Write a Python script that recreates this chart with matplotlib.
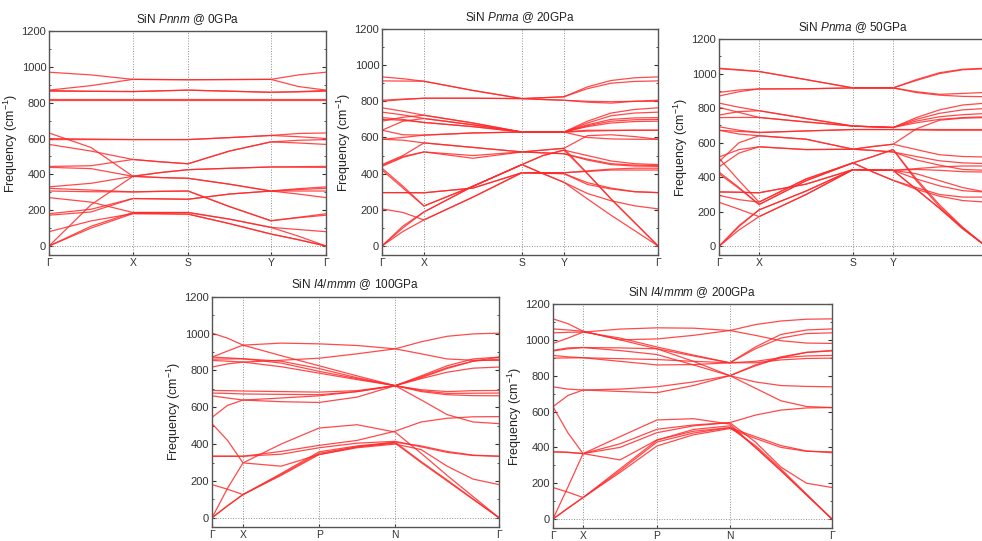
import numpy as np
import matplotlib
matplotlib.use('Agg')
import matplotlib.pyplot as plt
from matplotlib.ticker import MultipleLocator

plt.rcParams['font.family'] = ['Liberation Sans', 'DejaVu Sans']
plt.rcParams['mathtext.fontset'] = 'custom'
plt.rcParams['mathtext.rm'] = 'Liberation Sans'
plt.rcParams['mathtext.it'] = 'Liberation Sans:italic'

# --- SiN Pnnm @ 0GPa : values at G, mid, X, mid, S, mid, Y, mid, G
p0_labels = ['Γ', 'X', 'S', 'Y', 'Γ']
p0_ticks = [0.0, 0.303, 0.502, 0.801, 1.0]
p0_subdiv = [2, 2, 2, 2]
p0_bands = [
  [970, 955, 930, 929, 928, 929, 930, 955, 970],
  [870, 895, 930, 929, 928, 929, 930, 890, 870],
  [868, 864, 862, 866, 870, 864, 858, 862, 868],
  [864, 863, 862, 866, 870, 864, 858, 860, 864],
  [820, 820, 820, 820, 820, 820, 820, 820, 820],
  [815, 815, 815, 815, 815, 815, 815, 815, 815],
  [600, 597, 594, 594, 594, 605, 617, 628, 631],
  [594, 594, 594, 594, 594, 605, 617, 610, 600],
  [631, 550, 389, 410, 426, 434, 441, 443, 444],
  [567, 530, 483, 470, 459, 530, 581, 590, 594],
  [444, 448, 483, 470, 459, 530, 581, 575, 567],
  [439, 432, 389, 410, 426, 434, 441, 440, 439],
  [330, 350, 389, 382, 378, 345, 307, 320, 330],
  [0, 230, 389, 382, 378, 345, 307, 315, 322],
  [322, 312, 302, 305, 307, 220, 141, 160, 180],
  [307, 303, 302, 305, 307, 220, 141, 158, 172],
  [270, 245, 187, 187, 187, 150, 104, 92, 80],
  [180, 205, 265, 263, 261, 290, 307, 307, 307],
  [172, 190, 265, 263, 261, 290, 307, 290, 270],
  [80, 140, 181, 180, 178, 125, 67, 35, 0],
  [0, 110, 187, 187, 187, 150, 104, 55, 0],
  [0, 100, 181, 180, 178, 125, 67, 35, 0],
]

# --- SiN Pnma @ 20GPa : G, mid, X, mid, S, mid, Y, q1, q2, q3, G
p1_labels = ['Γ', 'X', 'S', 'Y', 'Γ']
p1_ticks = [0.0, 0.152, 0.507, 0.659, 1.0]
p1_subdiv = [2, 2, 2, 4]
p1_bands = [
  [935, 925, 911, 860, 815, 820, 825, 880, 915, 930, 935],
  [913, 912, 911, 860, 815, 820, 825, 870, 900, 910, 913],
  [806, 812, 817, 817, 815, 810, 806, 795, 790, 800, 806],
  [800, 810, 817, 817, 815, 810, 806, 800, 798, 800, 800],
  [764, 745, 723, 680, 630, 630, 630, 690, 735, 755, 764],
  [690, 712, 723, 680, 630, 630, 630, 680, 720, 735, 740],
  [740, 725, 705, 670, 630, 630, 630, 670, 700, 708, 710],
  [640, 690, 705, 670, 630, 630, 630, 665, 690, 698, 700],
  [710, 700, 683, 660, 630, 630, 630, 660, 680, 688, 690],
  [700, 695, 683, 660, 630, 630, 630, 640, 640, 640, 640],
  [640, 615, 613, 625, 630, 630, 630, 635, 638, 640, 640],
  [590, 600, 613, 625, 630, 630, 630, 600, 592, 590, 590],
  [590, 585, 570, 545, 520, 530, 540, 610, 615, 605, 590],
  [450, 500, 570, 545, 520, 530, 540, 400, 260, 130, 0],
  [440, 490, 520, 500, 520, 515, 510, 480, 455, 447, 445],
  [445, 495, 520, 485, 520, 515, 510, 475, 450, 442, 440],
  [430, 330, 221, 330, 450, 500, 530, 500, 470, 455, 450],
  [420, 320, 221, 330, 450, 400, 352, 290, 250, 222, 205],
  [295, 295, 294, 320, 405, 405, 405, 415, 425, 430, 430],
  [295, 295, 294, 320, 405, 405, 405, 412, 420, 420, 420],
  [0, 110, 188, 330, 450, 500, 530, 400, 260, 130, 0],
  [0, 100, 188, 330, 450, 400, 352, 260, 170, 85, 0],
  [205, 185, 144, 270, 405, 402, 400, 350, 320, 300, 295],
  [0, 80, 144, 270, 405, 402, 400, 340, 315, 300, 295],
]

# --- SiN Pnma @ 50GPa (right end cut off by the picture edge)
p2_labels = ['Γ', 'X', 'S', 'Y', '']
p2_ticks = [0.0, 0.150, 0.502, 0.652, 1.0]
p2_subdiv = [2, 2, 2, 4]
p2_bands = [
  [1031, 1022, 1012, 965, 917, 917, 917, 965, 1005, 1025, 1031],
  [1028, 1020, 1012, 965, 917, 917, 917, 960, 1000, 1022, 1028],
  [891, 905, 911, 912, 917, 917, 917, 895, 880, 885, 891],
  [870, 895, 911, 912, 917, 917, 917, 890, 875, 868, 866],
  [829, 805, 785, 740, 696, 692, 688, 745, 790, 818, 829],
  [760, 780, 785, 740, 696, 692, 688, 735, 770, 790, 798],
  [804, 775, 746, 720, 696, 692, 688, 725, 750, 762, 769],
  [745, 746, 746, 720, 696, 692, 688, 715, 735, 745, 750],
  [692, 672, 659, 668, 676, 676, 676, 676, 676, 676, 676],
  [672, 665, 659, 668, 676, 676, 676, 674, 672, 672, 672],
  [672, 650, 640, 620, 562, 578, 591, 680, 730, 742, 745],
  [490, 600, 640, 620, 562, 578, 591, 560, 530, 520, 517],
  [517, 560, 576, 560, 562, 555, 546, 520, 495, 483, 479],
  [460, 540, 576, 560, 562, 555, 546, 500, 470, 445, 440],
  [315, 313, 310, 360, 444, 442, 440, 450, 460, 465, 465],
  [315, 313, 310, 360, 444, 442, 440, 445, 440, 432, 430],
  [510, 380, 256, 390, 483, 430, 382, 340, 300, 285, 285],
  [295, 270, 256, 390, 483, 520, 560, 390, 240, 110, 0],
  [430, 340, 242, 380, 483, 520, 560, 380, 230, 105, 0],
  [420, 335, 242, 380, 483, 430, 382, 330, 290, 265, 256],
  [0, 120, 211, 320, 444, 442, 440, 390, 350, 322, 314],
  [0, 115, 211, 320, 444, 442, 440, 330, 220, 105, 0],
  [255, 215, 172, 300, 444, 442, 440, 420, 380, 340, 314],
  [0, 95, 172, 300, 444, 442, 440, 330, 220, 100, 0],
]

# --- SiN I4/mmm @ 100GPa : G, mid, X, mid, P, mid, N, q1, q2, q3, G
p3_labels = ['Γ', 'X', 'P', 'N', 'Γ']
p3_ticks = [0.0, 0.108, 0.373, 0.638, 1.0]
p3_subdiv = [2, 2, 2, 4]
p3_bands = [
  [1002, 975, 937, 880, 825, 770, 717, 760, 810, 850, 872],
  [872, 905, 937, 948, 944, 935, 917, 955, 985, 998, 1002],
  [818, 835, 845, 855, 866, 890, 917, 890, 862, 855, 854],
  [872, 868, 863, 850, 810, 760, 717, 770, 825, 862, 872],
  [861, 862, 863, 840, 795, 755, 717, 765, 815, 850, 861],
  [854, 850, 845, 820, 785, 750, 717, 755, 790, 812, 818],
  [691, 690, 688, 685, 682, 690, 717, 695, 685, 690, 691],
  [677, 675, 672, 670, 668, 685, 717, 690, 675, 676, 677],
  [662, 650, 639, 630, 626, 655, 717, 685, 668, 663, 662],
  [545, 610, 639, 650, 662, 685, 717, 640, 560, 520, 511],
  [511, 420, 298, 400, 487, 505, 465, 350, 230, 115, 0],
  [0, 160, 298, 280, 343, 380, 400, 370, 280, 210, 180],
  [334, 334, 334, 360, 393, 420, 470, 520, 540, 548, 549],
  [334, 334, 334, 345, 380, 405, 415, 385, 355, 338, 334],
  [180, 155, 126, 230, 343, 385, 410, 390, 360, 340, 334],
  [0, 65, 126, 235, 350, 385, 405, 300, 200, 100, 0],
  [0, 65, 126, 240, 358, 390, 410, 305, 205, 102, 0],
]

# --- SiN I4/mmm @ 200GPa
p4_labels = ['Γ', 'X', 'P', 'N', 'Γ']
p4_ticks = [0.0, 0.108, 0.373, 0.634, 1.0]
p4_subdiv = [2, 2, 2, 4]
p4_bands = [
  [1117, 1090, 1048, 1000, 950, 880, 800, 860, 905, 930, 941],
  [980, 1010, 1043, 1060, 1067, 1065, 1052, 1085, 1105, 1115, 1117],
  [1061, 1055, 1048, 1000, 1005, 1025, 1052, 1025, 995, 982, 980],
  [1039, 1042, 1043, 1010, 960, 915, 872, 950, 1010, 1035, 1039],
  [941, 955, 957, 955, 950, 910, 872, 960, 1030, 1055, 1061],
  [913, 905, 900, 895, 890, 880, 872, 880, 900, 910, 913],
  [898, 899, 900, 880, 860, 862, 872, 872, 888, 896, 898],
  [938, 950, 957, 940, 918, 860, 800, 855, 900, 930, 938],
  [738, 725, 720, 725, 738, 765, 800, 765, 745, 740, 738],
  [627, 690, 720, 712, 705, 745, 800, 730, 660, 628, 622],
  [627, 480, 365, 460, 553, 560, 530, 400, 270, 135, 0],
  [375, 372, 365, 330, 442, 490, 510, 410, 280, 140, 0],
  [375, 373, 365, 400, 482, 520, 538, 580, 608, 620, 622],
  [176, 150, 120, 260, 408, 470, 505, 450, 400, 378, 375],
  [0, 60, 120, 270, 430, 480, 510, 460, 410, 380, 370],
  [0, 62, 120, 280, 440, 500, 520, 400, 270, 135, 0],
  [0, 180, 365, 420, 501, 525, 538, 430, 290, 200, 176],
]


def knot_positions(ticks, subdiv):
  xs = [ticks[0]]
  for i, n in enumerate(subdiv):
    xs += list(np.linspace(ticks[i], ticks[i + 1], n + 1)[1:])
  return xs


def draw_panel(fig, rect, title, ticks, labels, subdiv, bands):
  ax = fig.add_axes(rect)
  xs = knot_positions(ticks, subdiv)
  for band in bands:
    ax.plot(xs, band, color='#ff2a2a', lw=0.9, alpha=0.85)
  for t in ticks[1:-1]:
    ax.axvline(t, color='#8c8c8c', ls=':', lw=0.7)
  ax.axhline(0, color='#8c8c8c', ls=':', lw=0.7)

  ax.set_xlim(0, 1)
  ax.set_ylim(-50, 1200)
  ax.set_xticks(ticks)
  ax.set_xticklabels(labels)
  ax.yaxis.set_major_locator(MultipleLocator(200))
  ax.yaxis.set_minor_locator(MultipleLocator(100))
  ax.tick_params(axis='y', which='both', direction='in', right=True,
                 labelsize=8, colors='#333333', length=3, pad=2)
  ax.tick_params(axis='y', which='minor', length=1.5)
  ax.tick_params(axis='x', direction='in', length=2, labelsize=7.5,
                 colors='#333333', pad=2)
  for sp in ax.spines.values():
    sp.set_color('#555555')
    sp.set_linewidth(1.0)
  ax.set_ylabel('Frequency (cm$^{-1}$)', fontsize=9, color='#222222', labelpad=1)
  ax.set_title(title, fontsize=8.5, color='#222222', pad=6)
  return ax


fig = plt.figure(figsize=(9.82, 5.41), dpi=100)

draw_panel(fig, [0.0499, 0.5287, 0.2821, 0.414],
           'SiN $\\mathit{Pnnm}$ @ 0GPa', p0_ticks, p0_labels, p0_subdiv, p0_bands)
draw_panel(fig, [0.3890, 0.5287, 0.2811, 0.4177],
           'SiN $\\mathit{Pnma}$ @ 20GPa', p1_ticks, p1_labels, p1_subdiv, p1_bands)
draw_panel(fig, [0.7322, 0.5287, 0.2719, 0.3992],
           'SiN $\\mathit{Pnma}$ @ 50GPa', p2_ticks, p2_labels, p2_subdiv, p2_bands)
draw_panel(fig, [0.2159, 0.0259, 0.2923, 0.4257],
           'SiN $\\mathit{I4/mmm}$ @ 100GPa', p3_ticks, p3_labels, p3_subdiv, p3_bands)
draw_panel(fig, [0.5631, 0.0240, 0.2841, 0.4141],
           'SiN $\\mathit{I4/mmm}$ @ 200GPa', p4_ticks, p4_labels, p4_subdiv, p4_bands)

plt.savefig('out.png', dpi=100)
